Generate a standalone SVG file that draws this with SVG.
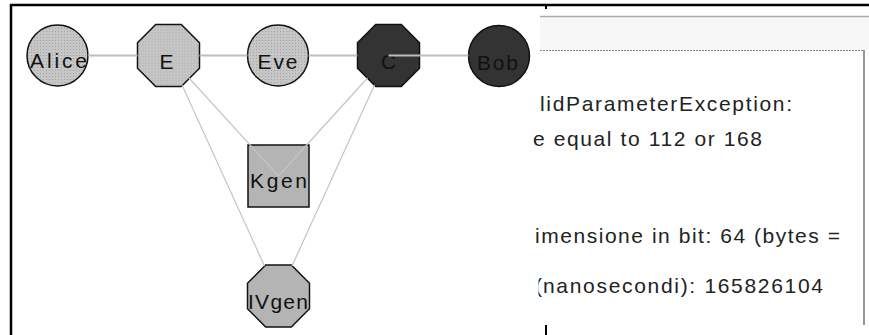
<svg xmlns="http://www.w3.org/2000/svg" width="869" height="335" viewBox="0 0 869 335">
<defs>
<pattern id="dots" width="3" height="3" patternUnits="userSpaceOnUse">
<rect width="3" height="3" fill="#c6c6c6"/>
<rect x="1" y="1" width="1" height="1" fill="#a4a4a4"/>
</pattern>
<polygon id="oct" points="-12.8,-31 12.8,-31 31,-12.8 31,12.8 12.8,31 -12.8,31 -31,12.8 -31,-12.8"/>
<clipPath id="parclip"><rect x="538.5" y="270" width="10" height="30"/></clipPath>
</defs>
<style>
.frame{stroke:#000;stroke-width:2.5;fill:none}
.tick{stroke:#000;stroke-width:2;fill:none}
.edge{stroke:#bdbdbd;fill:none}
.h{stroke-width:2}
.d{stroke-width:1.2;stroke:#c4c4c4}
.lbl{font-family:"Liberation Sans",Arial,sans-serif;font-size:21px;fill:#111;text-anchor:middle}
.msg{font-family:"Liberation Sans",Arial,sans-serif;font-size:21px;fill:#222}
.dotted{fill:url(#dots);stroke:#111;stroke-width:1.5}
.plain{fill:#b4b4b4;stroke:#111;stroke-width:1.5}
.dark{fill:#333;stroke:#111;stroke-width:1.5}
</style>
<rect width="869" height="335" fill="#fff"/>
<g id="frame">
<line class="frame" x1="10" y1="5" x2="869" y2="5"/>
<line class="frame" x1="11" y1="4" x2="11" y2="335"/>
<line class="tick" x1="546" y1="5" x2="546" y2="9"/>
<line class="tick" x1="546" y1="325" x2="546" y2="335"/>
</g>
<g id="panel">
<rect x="540" y="17" width="329" height="33" fill="#f7f7f7"/>
<line x1="540" y1="16.5" x2="869" y2="16.5" stroke="#aaa" stroke-width="1.5"/>
<line x1="540" y1="50.5" x2="863" y2="50.5" stroke="#888" stroke-width="1" stroke-dasharray="2 1"/>
<line x1="864" y1="50" x2="864" y2="325" stroke="#999" stroke-width="2"/>
<text class="msg" x="540" y="111" textLength="252" lengthAdjust="spacing">lidParameterException:</text>
<text class="msg" x="533" y="146" textLength="229" lengthAdjust="spacing">e equal to 112 or 168</text>
<text class="msg" x="535" y="243" textLength="305" lengthAdjust="spacing">imensione in bit: 64 (bytes =</text>
<text class="msg" x="535" y="293" clip-path="url(#parclip)">(</text>
<text class="msg" x="543" y="293" textLength="280" lengthAdjust="spacing">nanosecondi): 165826104</text>
</g>
<g id="node-alice">
<circle class="dotted" cx="57.5" cy="55.5" r="30.5"/>
<text class="lbl" x="58.5" y="68" textLength="57" lengthAdjust="spacing">Alice</text>
</g>
<g id="node-e">
<use href="#oct" class="dotted" x="168.5" y="55.5"/>
<text class="lbl" x="166.5" y="69">E</text>
</g>
<g id="node-eve">
<circle class="dotted" cx="278" cy="55.5" r="30.5"/>
<text class="lbl" x="277.5" y="69" textLength="40" lengthAdjust="spacing">Eve</text>
</g>
<g id="node-c">
<use href="#oct" class="dark" x="388.5" y="55.5"/>
<text class="lbl" x="388.5" y="69">C</text>
</g>
<g id="node-bob">
<circle class="dark" cx="499" cy="56" r="30.5"/>
<text class="lbl" x="497.5" y="70" textLength="41" lengthAdjust="spacing">Bob</text>
</g>
<g id="node-kgen">
<rect class="plain" x="248" y="145" width="61" height="62"/>
<text class="lbl" x="278.5" y="188" textLength="57" lengthAdjust="spacing">Kgen</text>
</g>
<g id="node-ivgen">
<use href="#oct" class="plain" x="278.5" y="296"/>
<text class="lbl" x="278" y="309" textLength="60" lengthAdjust="spacing">IVgen</text>
</g>
<g id="connectors">
<line class="edge h" x1="88" y1="55.5" x2="137.5" y2="55.5"/>
<line class="edge h" x1="199.5" y1="55.5" x2="247.5" y2="55.5"/>
<line class="edge h" x1="308.5" y1="55.5" x2="357.5" y2="55.5"/>
<line class="edge h" x1="388.5" y1="55.5" x2="468.5" y2="55.5" stroke="#d4d4d4"/>
<line class="edge d" x1="189" y1="78" x2="278.5" y2="176"/>
<line class="edge d" x1="182" y1="85" x2="264.5" y2="266"/>
<line class="edge d" x1="367.5" y1="78" x2="278.5" y2="176"/>
<line class="edge d" x1="374.5" y1="85" x2="292" y2="266"/>
</g>
</svg>
